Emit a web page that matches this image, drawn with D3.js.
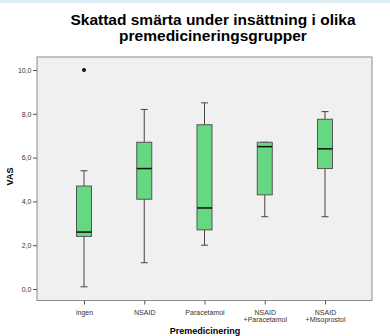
<!DOCTYPE html>
<html>
<head>
<meta charset="utf-8">
<script src="https://cdn.jsdelivr.net/npm/d3@7"></script>
<style>
  html, body { margin: 0; padding: 0; background: #ffffff; }
  svg { display: block; }
</style>
</head>
<body>
<svg id="chart" width="390" height="336"></svg>
<script>
// Group labels (second line after the line break)
const groups = ["ingen", "NSAID", "Paracetamol", "NSAID\n+Paracetamol", "NSAID\n+Misoprostol"];
// Five-number summaries per group
const whiskerLow  = [0.1, 1.2, 2.0, 3.3, 3.3];
const q1          = [2.4, 4.1, 2.7, 4.3, 5.5];
const median      = [2.6, 5.5, 3.7, 6.5, 6.4];
const q3          = [4.7, 6.7, 7.5, 6.7, 7.75];
const whiskerHigh = [5.4, 8.2, 8.5, 6.7, 8.1];
// Outliers: [group index, value]
const outliers = [[0, 10.0]];
const yTicks = [0, 2, 4, 6, 8, 10];

const title = ["Skattad smärta under insättning i olika", "premedicineringsgrupper"];
const xTitle = "Premedicinering";
const yTitle = "VAS";

const svg = d3.select("#chart");
const W = 390, H = 336;
const plot = { left: 37, right: 372, top: 57, bottom: 300.5 };

// thin band across the top
svg.append("rect").attr("x", 0).attr("y", 0).attr("width", W).attr("height", 3)
  .attr("fill", "#dcedf4");

const x = d3.scalePoint().domain(groups).range([plot.left, plot.right]).padding(0.78);
const y = d3.scaleLinear().domain([0, 10]).range([289, 70]);

// plot area
svg.append("rect")
  .attr("x", plot.left).attr("y", plot.top)
  .attr("width", plot.right - plot.left).attr("height", plot.bottom - plot.top)
  .attr("fill", "#f0f0f0").attr("stroke", "#8c8c8c").attr("stroke-width", 1);

// title
svg.append("text")
  .attr("x", 213).attr("y", 24.5)
  .attr("text-anchor", "middle")
  .attr("font-family", "Liberation Sans, Arial, sans-serif")
  .attr("font-weight", "bold").attr("font-size", 15.5).attr("fill", "#000")
  .selectAll("tspan").data(title).join("tspan")
  .attr("x", 213).attr("dy", (d, i) => i === 0 ? 0 : 16)
  .text(d => d);

// y axis
const yAxis = d3.axisLeft(y).tickValues(yTicks).tickSize(4).tickPadding(1.5)
  .tickFormat(d => d3.format(".1f")(d).replace(".", ","));
const gy = svg.append("g").attr("transform", `translate(${plot.left},0)`).call(yAxis);
gy.select(".domain").remove();
gy.selectAll(".tick line").attr("stroke", "#555");
gy.selectAll(".tick text").attr("font-family", "Liberation Sans, Arial, sans-serif")
  .attr("font-size", 7).attr("fill", "#333");

// x axis
const xAxis = d3.axisBottom(x).tickSize(4).tickPadding(3).tickFormat("");
const gx = svg.append("g").attr("transform", `translate(0,${plot.bottom})`).call(xAxis);
gx.select(".domain").remove();
gx.selectAll(".tick line").attr("stroke", "#555");
gx.selectAll(".tick").append("text")
  .attr("text-anchor", "middle")
  .attr("font-family", "Liberation Sans, Arial, sans-serif")
  .attr("font-size", 7).attr("fill", "#333")
  .selectAll("tspan").data(d => d.split("\n")).join("tspan")
  .attr("x", 0).attr("y", (d, i) => 14 + i * 7.5)
  .text(d => d);

// axis titles
svg.append("text").attr("x", 205).attr("y", 334)
  .attr("text-anchor", "middle")
  .attr("font-family", "Liberation Sans, Arial, sans-serif")
  .attr("font-weight", "bold").attr("font-size", 9).attr("fill", "#000")
  .text(xTitle);
svg.append("text")
  .attr("transform", `translate(13,${(y(0) + y(10)) / 2 - 3}) rotate(-90)`)
  .attr("text-anchor", "middle")
  .attr("font-family", "Liberation Sans, Arial, sans-serif")
  .attr("font-weight", "bold").attr("font-size", 9).attr("fill", "#000")
  .text(yTitle);

// boxes
const boxW = 15, capW = 7;
const data = groups.map((g, i) => ({ g, lo: whiskerLow[i], q1: q1[i], med: median[i], q3: q3[i], hi: whiskerHigh[i] }));
const bx = svg.append("g").selectAll("g").data(data).join("g")
  .attr("transform", d => `translate(${x(d.g)},0)`);

const stem = "#444";
bx.append("line").attr("x1", 0).attr("x2", 0)
  .attr("y1", d => y(d.hi)).attr("y2", d => y(d.q3)).attr("stroke", stem).attr("stroke-width", 1);
bx.append("line").attr("x1", 0).attr("x2", 0)
  .attr("y1", d => y(d.q1)).attr("y2", d => y(d.lo)).attr("stroke", stem).attr("stroke-width", 1);
bx.append("line").attr("x1", -capW / 2).attr("x2", capW / 2)
  .attr("y1", d => y(d.hi)).attr("y2", d => y(d.hi)).attr("stroke", stem).attr("stroke-width", 1);
bx.append("line").attr("x1", -capW / 2).attr("x2", capW / 2)
  .attr("y1", d => y(d.lo)).attr("y2", d => y(d.lo)).attr("stroke", stem).attr("stroke-width", 1);
bx.append("rect")
  .attr("x", -boxW / 2).attr("width", boxW)
  .attr("y", d => y(d.q3)).attr("height", d => y(d.q1) - y(d.q3))
  .attr("fill", "#66d882").attr("stroke", "#555").attr("stroke-width", 1);
bx.append("line").attr("x1", -boxW / 2).attr("x2", boxW / 2)
  .attr("y1", d => y(d.med)).attr("y2", d => y(d.med))
  .attr("stroke", "#111").attr("stroke-width", 1.5);

// outliers
svg.append("g").selectAll("circle").data(outliers).join("circle")
  .attr("cx", d => x(groups[d[0]])).attr("cy", d => y(d[1]))
  .attr("r", 2).attr("fill", "#111");
</script>
</body>
</html>
